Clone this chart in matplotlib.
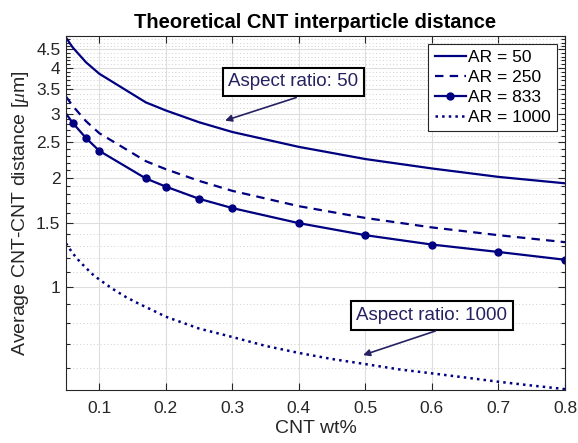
import matplotlib
matplotlib.use('Agg')
import matplotlib.pyplot as plt
import numpy as np
from matplotlib.ticker import FixedLocator, NullFormatter, NullLocator

plt.rcParams['font.family'] = ['Liberation Sans', 'DejaVu Sans']
plt.rcParams['mathtext.fontset'] = 'custom'
plt.rcParams['mathtext.it'] = 'Liberation Serif:italic'

# CNT weight fraction (%) where the curves were evaluated
wt = [0.05, 0.06, 0.08, 0.1, 0.17, 0.2, 0.25, 0.3, 0.4, 0.5, 0.6, 0.7, 0.8]

# average interparticle distance, um
ar50 = [4.85, 4.56, 4.15, 3.86, 3.22, 3.06, 2.84, 2.67, 2.43, 2.25, 2.12, 2.01, 1.93]
ar250 = [3.34, 3.15, 2.86, 2.65, 2.22, 2.11, 1.96, 1.84, 1.67, 1.55, 1.46, 1.39, 1.33]
ar833 = [3.00, 2.83, 2.57, 2.37, 1.99, 1.89, 1.75, 1.65, 1.50, 1.39, 1.31, 1.25, 1.19]

# AR = 1000 is drawn on a finer grid
wt_fine = [0.05, 0.06, 0.07, 0.08, 0.09, 0.1, 0.12, 0.14, 0.16, 0.18, 0.2,
           0.25, 0.3, 0.35, 0.4, 0.45, 0.5, 0.55, 0.6, 0.65, 0.7, 0.75, 0.8]
ar1000 = [1.32, 1.24, 1.18, 1.13, 1.085, 1.05, 0.99, 0.94, 0.90, 0.865, 0.83,
          0.77, 0.73, 0.69, 0.66, 0.635, 0.615, 0.595, 0.58, 0.565, 0.55, 0.537, 0.525]

x_ticks = [0.1, 0.2, 0.3, 0.4, 0.5, 0.6, 0.7, 0.8]
y_ticks = [1, 1.5, 2, 2.5, 3, 3.5, 4, 4.5]
y_minor = [round(v, 1) for v in np.arange(0.6, 4.95, 0.1)]

navy = '#000080'
txt_col = '#262262'
ax_col = '#262626'

fig = plt.figure(figsize=(5.78, 4.43), dpi=100)
ax = fig.add_axes([0.1142, 0.1196, 0.8633, 0.7991])

ax.plot(wt, ar50, '-', color=navy, lw=1.6, label='AR = 50')
ax.plot(wt, ar250, '--', color=navy, lw=1.6, dashes=(3.8, 2.8), label='AR = 250')
ax.plot(wt, ar833, '-o', color=navy, lw=1.6, ms=5, markevery=slice(1, None), label='AR = 833')
ax.plot(wt_fine, ar1000, ':', color=navy, lw=1.8, label='AR = 1000')

ax.set_yscale('log')
ax.set_xlim(0.05, 0.8)
ax.set_ylim(0.522, 4.9)

ax.xaxis.set_major_locator(FixedLocator(x_ticks))
ax.xaxis.set_minor_locator(NullLocator())
ax.set_xticklabels([f'{v:g}' for v in x_ticks])
ax.yaxis.set_major_locator(FixedLocator(y_ticks))
ax.yaxis.set_minor_locator(FixedLocator([v for v in y_minor if v not in y_ticks]))
ax.set_yticklabels([f'{v:g}' for v in y_ticks])
ax.yaxis.set_minor_formatter(NullFormatter())

ax.tick_params(which='both', direction='in', top=True, right=True,
               colors=ax_col, labelsize=12.5, width=0.8)
ax.tick_params(which='major', length=5)
ax.tick_params(which='minor', length=3)
ax.tick_params(axis='x', pad=8)
ax.tick_params(axis='y', pad=4)
for s in ax.spines.values():
    s.set_color(ax_col)
    s.set_linewidth(0.8)

ax.grid(True, which='major', color='#dedede', lw=0.8)
ax.grid(True, which='minor', axis='y', color='#d0d0d0', lw=0.7, ls=(0, (1, 2.5)))
ax.set_axisbelow(True)

ax.set_title('Theoretical CNT interparticle distance', fontsize=14.5, fontweight='bold', pad=6)
ax.set_xlabel('CNT wt%', fontsize=14, color=ax_col, labelpad=3)
ax.set_ylabel(r'Average CNT-CNT distance [$\mu$m]', fontsize=14, color=ax_col, labelpad=4)

leg = ax.legend(loc='upper right', fontsize=12.5, handlelength=1.8, handletextpad=0.15,
                labelspacing=0.28, borderpad=0.35, borderaxespad=0.45, fancybox=False,
                framealpha=1, edgecolor='#262626')
leg.get_frame().set_linewidth(0.8)

box = dict(boxstyle='square,pad=0.3', fc='white', ec='black', lw=1.5)
arrow = dict(arrowstyle='-|>', color=txt_col, lw=1.2, mutation_scale=10,
             shrinkA=0, shrinkB=0)

ax.text(0.392, 3.67, 'Aspect ratio: 50', fontsize=13.5, color=txt_col,
        ha='center', va='center', bbox=box)
ax.annotate('', xy=(0.289, 2.87), xytext=(0.396, 3.32), arrowprops=arrow)

ax.text(0.600, 0.836, 'Aspect ratio: 1000', fontsize=13.5, color=txt_col,
        ha='center', va='center', bbox=box)
ax.annotate('', xy=(0.4965, 0.651), xytext=(0.605, 0.758), arrowprops=arrow)

fig.savefig('out.png', dpi=100)
